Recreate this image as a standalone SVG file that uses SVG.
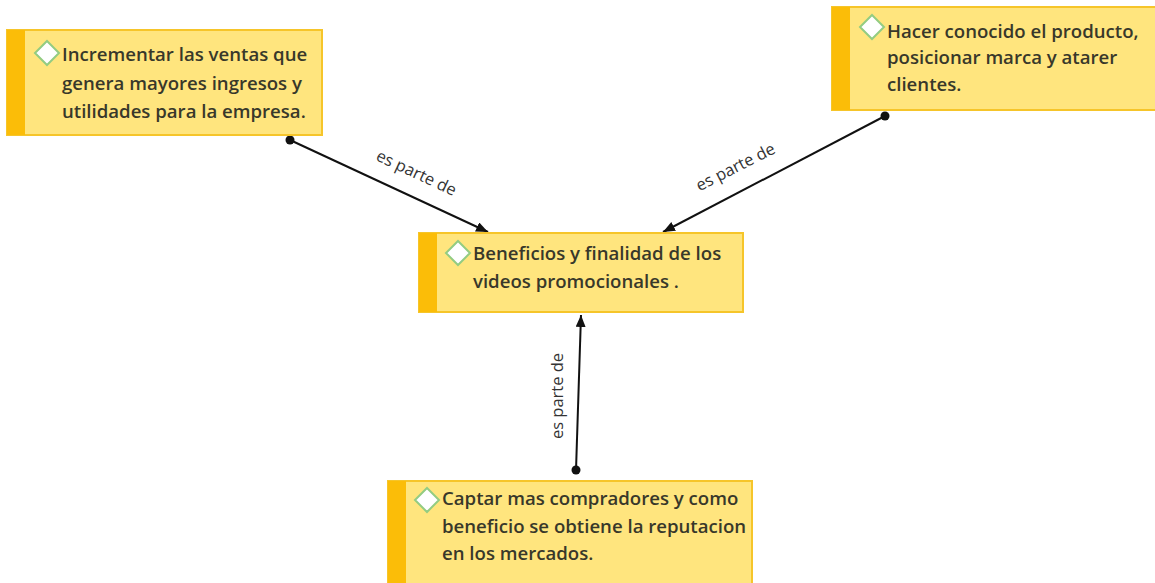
<svg xmlns="http://www.w3.org/2000/svg" width="1155" height="583" viewBox="0 0 1155 583">
<style>
.box{fill:#FFE57E;stroke:#F6C52A;stroke-width:2}
.bar{fill:#FBBD08}
.dia{fill:#FFFFFF;stroke:#93CC82;stroke-width:2}
.t{font-family:"Open Sans","Segoe UI","Liberation Sans",sans-serif;font-weight:600;font-size:18.6px;fill:#38382A}
.lbl{font-family:"Open Sans","Liberation Sans",sans-serif;font-size:16.5px;fill:#333333}
.ln{stroke:#111111;stroke-width:2;fill:none}
</style>
<defs>
<marker id="arr" viewBox="0 0 12 10" refX="12" refY="5" markerWidth="12" markerHeight="10" markerUnits="userSpaceOnUse" orient="auto">
<path d="M0,0 L12,5 L0,10 Z" fill="#111111"/>
</marker>
<marker id="dot" viewBox="0 0 10 10" refX="5" refY="5" markerWidth="10" markerHeight="10" markerUnits="userSpaceOnUse">
<circle cx="5" cy="5" r="4.5" fill="#111111"/>
</marker>
</defs>
<g id="connectors">
<line class="ln" x1="290" y1="140" x2="488" y2="232" marker-start="url(#dot)" marker-end="url(#arr)"/>
<line class="ln" x1="885" y1="116" x2="663" y2="232" marker-start="url(#dot)" marker-end="url(#arr)"/>
<line class="ln" x1="576" y1="470" x2="581" y2="315" marker-start="url(#dot)" marker-end="url(#arr)"/>
<text class="lbl" transform="translate(414,178) rotate(25)" text-anchor="middle">es parte de</text>
<text class="lbl" transform="translate(738,172) rotate(-27)" text-anchor="middle">es parte de</text>
<text class="lbl" transform="translate(563,396) rotate(-90)" text-anchor="middle">es parte de</text>
</g>
<g id="node1">
<rect class="box" x="7" y="30" width="315" height="105"/>
<rect class="bar" x="7" y="30" width="18" height="105"/>
<path class="dia" d="M47,41 L59,53 L47,65 L35,53 Z"/>
<text class="t" x="62" y="61">Incrementar las ventas que</text>
<text class="t" x="62" y="90">genera mayores ingresos y</text>
<text class="t" x="62" y="118">utilidades para la empresa.</text>
</g>
<g id="node2">
<rect class="box" x="832" y="7" width="330" height="103"/>
<rect class="bar" x="832" y="7" width="18" height="103"/>
<path class="dia" d="M872,15 L884,27 L872,39 L860,27 Z"/>
<text class="t" x="887" y="38">Hacer conocido el producto,</text>
<text class="t" x="887" y="64">posicionar marca y atarer</text>
<text class="t" x="887" y="91">clientes.</text>
</g>
<g id="node3">
<rect class="box" x="419" y="233" width="324" height="79"/>
<rect class="bar" x="419" y="233" width="18" height="79"/>
<path class="dia" d="M458,241 L470,253 L458,265 L446,253 Z"/>
<text class="t" x="473" y="260">Beneficios y finalidad de los</text>
<text class="t" x="473" y="288">videos promocionales .</text>
</g>
<g id="node4">
<rect class="box" x="388" y="481" width="364" height="110"/>
<rect class="bar" x="388" y="481" width="18" height="110"/>
<path class="dia" d="M427,488 L439,500 L427,512 L415,500 Z"/>
<text class="t" x="442" y="505">Captar mas compradores y como</text>
<text class="t" x="442" y="533">beneficio se obtiene la reputacion</text>
<text class="t" x="442" y="560">en los mercados.</text>
</g>
</svg>
